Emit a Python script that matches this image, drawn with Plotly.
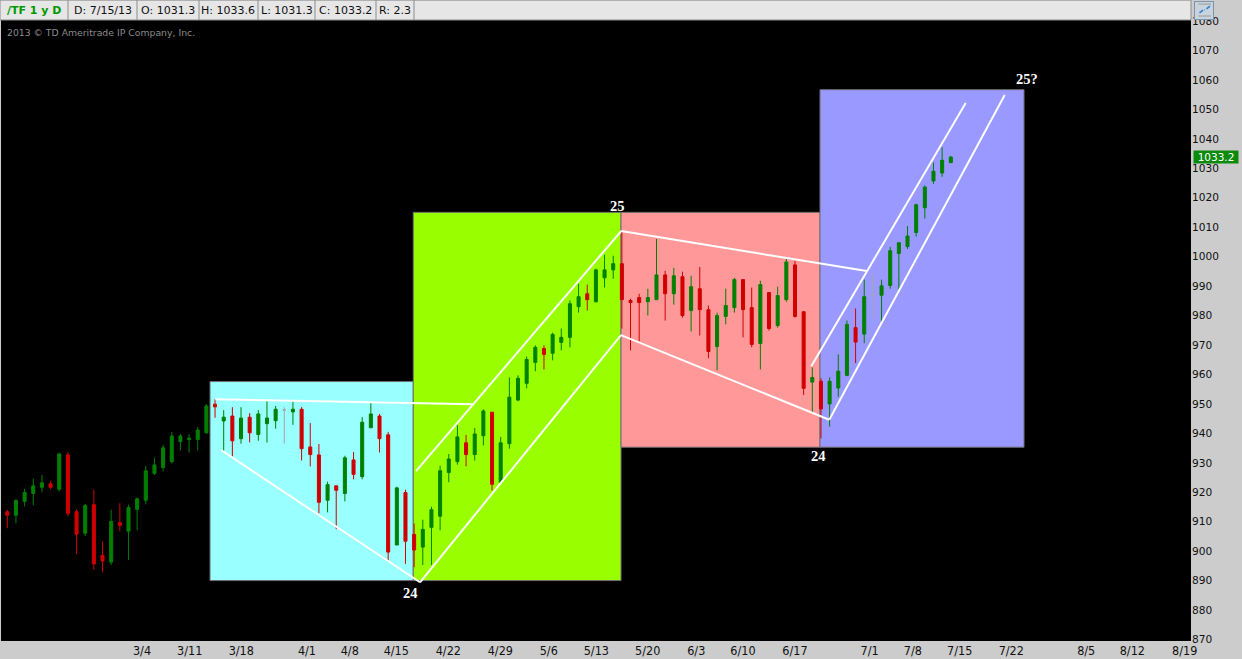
import plotly.graph_objects as go

# ---------------- data ----------------
opens = [912.8, 911.6, 916.3, 919.0, 921.1, 922.3, 920.4, 932.1, 912.8, 905.5,
         915.2, 898.0, 895.7, 909.1, 906.2, 913.6, 916.7, 925.8, 927.8, 929.8,
         936.6, 937.3, 937.3, 939.6, 949.3, 943.6, 945.3, 937.6, 944.9, 939.0,
         942.7, 943.7, 947.3, 946.7, 947.6, 934.8, 932.1, 916.7, 921.6, 919.0,
         930.4, 924.7, 941.3, 945.3, 938.9, 901.5, 919.3, 905.1, 900.8, 907.5,
         911.3, 926.1, 929.8, 936.2, 932.2, 938.6, 946.6, 922.8, 935.9, 950.7,
         956.4, 963.5, 968.2, 966.6, 970.3, 972.0, 982.4, 986.8, 984.1, 992.2,
         994.9, 997.0, 984.5, 985.5, 984.1, 984.8, 993.2, 986.8, 992.6, 981.1,
         988.5, 981.4, 968.9, 979.1, 982.1, 991.6, 982.1, 969.9, 987.2, 976.0,
         984.8, 996.6, 980.7, 956.8, 957.1, 949.4, 954.8, 959.1, 975.3, 973.1,
         986.5, 986.3, 989.6, 1000.5, 1002.8, 1007.6, 1016.0, 1025.1, 1027.8, 1031.3]
highs = [913.5, 917.2, 920.6, 924.0, 925.3, 923.3, 932.8, 933.1, 913.6, 915.5,
         920.3, 902.8, 913.5, 915.7, 915.2, 917.6, 928.4, 931.1, 935.5, 939.9,
         939.2, 939.2, 941.6, 949.3, 951.0, 947.3, 948.3, 948.3, 946.3, 947.3,
         950.3, 948.7, 948.3, 950.3, 948.3, 942.9, 935.8, 923.0, 921.6, 931.8,
         933.1, 944.9, 949.7, 946.0, 939.9, 921.3, 920.3, 908.8, 910.1, 914.5,
         928.4, 932.4, 942.2, 938.9, 941.2, 947.6, 946.6, 938.2, 958.4, 959.1,
         965.5, 969.3, 969.3, 973.6, 975.0, 984.5, 990.2, 989.9, 995.3, 1000.0,
         999.7, 1008.1, 985.1, 986.8, 988.5, 1005.4, 994.6, 995.6, 994.3, 992.9,
         995.9, 982.8, 980.4, 988.5, 992.2, 991.6, 988.9, 991.2, 987.2, 989.2,
         998.7, 997.9, 980.7, 961.8, 958.1, 958.4, 966.2, 977.7, 981.8, 991.6,
         993.6, 991.6, 1002.7, 1004.1, 1009.8, 1017.4, 1023.6, 1031.4, 1036.5, 1033.6]
lows = [907.2, 908.9, 914.6, 915.0, 919.4, 920.4, 919.7, 911.3, 898.4, 904.5,
        893.0, 892.3, 894.7, 906.2, 896.4, 906.5, 915.3, 925.3, 926.5, 929.2,
        933.6, 932.9, 933.6, 939.3, 944.7, 933.6, 931.6, 935.9, 936.3, 936.9,
        936.3, 941.0, 935.9, 942.3, 930.2, 928.2, 912.3, 912.6, 906.9, 916.3,
        923.8, 923.8, 941.3, 932.9, 895.7, 901.5, 895.1, 894.0, 894.7, 894.7,
        906.5, 922.8, 928.8, 928.2, 930.2, 935.3, 920.0, 922.4, 934.2, 950.3,
        954.7, 960.5, 961.1, 964.2, 967.6, 968.6, 980.4, 981.1, 983.8, 988.9,
        991.9, 975.0, 967.6, 970.7, 979.4, 984.8, 977.7, 983.1, 978.7, 974.0,
        972.6, 964.9, 960.8, 976.4, 980.4, 972.0, 968.6, 961.1, 974.3, 975.3,
        984.1, 978.7, 952.4, 946.5, 937.7, 941.7, 951.8, 958.8, 963.3, 970.0,
        978.7, 977.5, 988.5, 988.2, 1002.0, 1006.2, 1012.3, 1024.1, 1026.5, 1031.3]
closes = [911.6, 916.6, 919.3, 921.6, 922.6, 921.1, 932.4, 912.3, 905.2, 914.9,
          895.1, 896.1, 909.5, 908.2, 914.2, 917.2, 926.7, 928.7, 934.5, 938.5,
          938.5, 937.8, 940.5, 948.7, 948.4, 944.9, 936.9, 944.6, 939.6, 946.0,
          944.6, 947.6, 947.3, 947.6, 934.2, 932.2, 916.0, 922.0, 920.1, 931.1,
          925.5, 943.2, 946.0, 937.6, 899.1, 920.9, 902.8, 899.8, 906.8, 913.5,
          926.7, 930.7, 938.2, 932.2, 939.2, 947.0, 922.1, 936.2, 951.7, 958.1,
          964.5, 968.6, 966.2, 973.0, 972.0, 983.4, 985.8, 984.8, 994.9, 994.9,
          997.0, 984.8, 983.8, 983.8, 985.5, 993.2, 986.8, 992.9, 979.4, 989.2,
          981.4, 967.2, 979.4, 982.8, 991.6, 981.4, 969.6, 989.9, 975.0, 986.2,
          997.6, 979.1, 954.7, 958.4, 947.7, 957.1, 960.5, 976.4, 970.4, 985.8,
          986.5, 989.5, 1001.4, 1004.1, 1006.4, 1017.0, 1023.0, 1028.4, 1032.1, 1033.2]
doji_idx = [32, 100]          # sessions drawn as grey dojis

tick_labels = ["3/4", "3/11", "3/18", "4/1", "4/8", "4/15", "4/22", "4/29", "5/6",
               "5/13", "5/20", "6/3", "6/10", "6/17", "7/1", "7/8", "7/15", "7/22",
               "8/5", "8/12", "8/19"]
tick_pos = [15.56, 21.07, 27.03, 34.62, 39.56, 44.94, 50.95, 56.96, 62.55, 68.05,
            73.98, 79.59, 84.99, 91.0, 99.61, 104.61, 110.03, 115.99, 124.64,
            129.97, 136.02]
price_ticks = list(range(870, 1090, 10))

# highlighted wave zones: (x0, x1, low, high) in bar-index / price units
zone_bounds = [(23.42, 46.90, 889.43, 956.99),
               (46.90, 70.90, 889.43, 1014.43),
               (70.90, 93.89, 934.70, 1014.43),
               (93.89, 117.46, 934.70, 1056.08)]
zone_colors = ["#99FFFF", "#99FF00", "#FF9999", "#9999FF"]

# trend lines: (x0, y0, x1, y1)
trend_lines = [(24.03, 951.01, 53.84, 949.32),
               (24.72, 933.68, 47.68, 888.85),
               (47.22, 926.59, 70.93, 1008.11),
               (47.68, 888.85, 70.90, 972.74),
               (70.93, 1008.11, 99.29, 994.49),
               (70.90, 972.74, 94.96, 944.02),
               (92.88, 962.16, 110.72, 1051.59),
               (94.96, 944.02, 115.23, 1054.29)]

wave_labels = ["24", "25", "24", "25?"]
wave_x = [46.6, 70.5, 93.7, 117.8]
wave_y = [885.1, 1016.7, 931.8, 1059.8]

header_texts = ["/TF 1 y D", "D: 7/15/13", "O: 1031.3", "H: 1033.6",
                "L: 1031.3", "C: 1033.2", "R: 2.3"]
last_price = closes[-1]

# ---------------- layout geometry ----------------
W, H = 1242, 659
ML, MR, MT, MB = 1, 51, 20, 15
PW, PH = W - ML - MR, H - MT - MB
YR = (868.92, 1079.73)
LABEL_SHIFT = 0.6   # price labels sit ~2px below their gridline value


def px2x(p):
    return (p - ML) / PW


def py2y(p):
    return (H - MB - p) / PH


GREEN = "#008000"
RED = "#D00000"
GREY = "#A8A8A8"

normal = [i for i in range(len(opens)) if i not in doji_idx]

fig = go.Figure()
fig.add_trace(go.Candlestick(
    x=normal,
    open=[opens[i] for i in normal], high=[highs[i] for i in normal],
    low=[lows[i] for i in normal], close=[closes[i] for i in normal],
    increasing=dict(line=dict(color=GREEN, width=1), fillcolor=GREEN),
    decreasing=dict(line=dict(color=RED, width=1), fillcolor=RED),
    whiskerwidth=0, showlegend=False, hoverinfo="skip"))
fig.add_trace(go.Candlestick(
    x=doji_idx,
    open=[opens[i] for i in doji_idx], high=[highs[i] for i in doji_idx],
    low=[lows[i] for i in doji_idx], close=[closes[i] for i in doji_idx],
    increasing=dict(line=dict(color=GREY, width=1), fillcolor=GREY),
    decreasing=dict(line=dict(color=GREY, width=1), fillcolor=GREY),
    whiskerwidth=0, showlegend=False, hoverinfo="skip"))

shapes = []
for (x0, x1, lo, hi), col in zip(zone_bounds, zone_colors):
    shapes.append(dict(type="rect", xref="x", yref="y", x0=x0, x1=x1, y0=lo, y1=hi,
                       fillcolor=col, line=dict(color="#6E6E6E", width=1), layer="below"))
for (x0, y0, x1, y1) in trend_lines:
    shapes.append(dict(type="line", xref="x", yref="y", x0=x0, y0=y0, x1=x1, y1=y1,
                       line=dict(color="white", width=2), layer="above"))

# header bar
box_edges = [0, 68, 137, 199, 258, 315, 376, 414, 1191]
shapes.append(dict(type="rect", xref="paper", yref="paper",
                   x0=px2x(0), x1=px2x(1191), y0=py2y(20), y1=py2y(0),
                   fillcolor="#E6E6E6", line=dict(color="#8C8C8C", width=1)))
for e in box_edges[1:-1]:
    shapes.append(dict(type="line", xref="paper", yref="paper",
                       x0=px2x(e), x1=px2x(e), y0=py2y(20), y1=py2y(0),
                       line=dict(color="#8C8C8C", width=1)))

annotations = []
for t, x, y in zip(wave_labels, wave_x, wave_y):
    annotations.append(dict(x=x, y=y, xref="x", yref="y", text="<b>%s</b>" % t,
                            showarrow=False,
                            font=dict(family="Liberation Serif", size=14.5, color="white")))
centers = [(box_edges[i] + box_edges[i + 1]) / 2 for i in range(len(header_texts))]
for i, (t, cx) in enumerate(zip(header_texts, centers)):
    if i == 0:
        txt = "<b>%s</b>" % t
        col = "#009A00"
    else:
        txt = t
        col = "#111111"
    annotations.append(dict(x=px2x(cx), y=py2y(10), xref="paper", yref="paper",
                            text=txt, showarrow=False, xanchor="center", yanchor="middle",
                            font=dict(family="DejaVu Sans", size=11, color=col)))
annotations.append(dict(x=px2x(5), y=py2y(33), xref="paper", yref="paper",
                        text="2013 © TD Ameritrade IP Company, Inc.", showarrow=False,
                        xanchor="left", yanchor="middle",
                        font=dict(family="DejaVu Sans", size=9.3, color="#8A8A8A")))
# last-price badge (drawn over the axis labels, as in the reference)
annotations.append(dict(x=px2x(1193), y=py2y(158), xref="paper", yref="paper",
                        text="%.1f" % last_price, showarrow=False,
                        xanchor="left", yanchor="middle", width=44, height=12,
                        align="center", bgcolor="#0B8A0B", borderpad=0,
                        font=dict(family="DejaVu Sans", size=10.5, color="white")))
# chart-style icon at top right (covers the clipped top price label)
annotations.append(dict(x=px2x(1194), y=py2y(0.5), xref="paper", yref="paper",
                        text="", showarrow=False, xanchor="left", yanchor="top",
                        width=18, height=17, bgcolor="#C9D3DE",
                        bordercolor="#7F93AA", borderwidth=1, borderpad=0))
for (xa, ya, xb, yb, c, w) in [(1197, 4, 1211, 4, "#9A9A9A", 1),
                               (1197, 16, 1211, 16, "#9A9A9A", 1),
                               (1198, 14, 1203, 10, "#2F7FD0", 1.5),
                               (1203, 10, 1205, 10, "#2F7FD0", 1.5),
                               (1205, 10, 1210, 6, "#2F7FD0", 1.5)]:
    annotations.append(dict(x=px2x(xb), y=py2y(yb), xref="paper", yref="paper",
                            ax=xa - xb, ay=ya - yb, text="", showarrow=True,
                            arrowhead=0, arrowwidth=w, arrowcolor=c,
                            standoff=0, startstandoff=0))

fig.update_layout(
    width=W, height=H,
    margin=dict(l=ML, r=MR, t=MT, b=MB, pad=0),
    paper_bgcolor="#CCCCCC", plot_bgcolor="black",
    boxgap=0.5,
    showlegend=False,
    shapes=shapes, annotations=annotations,
    xaxis=dict(range=[-0.728, 136.75], tickvals=tick_pos, ticktext=tick_labels,
               showgrid=False, zeroline=False, ticks="", showline=False,
               rangeslider=dict(visible=False), fixedrange=True,
               tickfont=dict(family="DejaVu Sans Condensed, Liberation Sans Narrow, DejaVu Sans",
                             size=12.5, color="#111111")),
    yaxis=dict(range=list(YR), side="right",
               tickvals=[v - LABEL_SHIFT for v in price_ticks],
               ticktext=[str(v) for v in price_ticks],
               showgrid=False, zeroline=False, ticks="", showline=False, fixedrange=True,
               tickfont=dict(family="DejaVu Sans", size=10.6, color="#111111")),
)

fig.write_html("out.html", config={"displayModeBar": False},
               post_script="document.body.style.margin='0';document.body.style.overflow='hidden';")
